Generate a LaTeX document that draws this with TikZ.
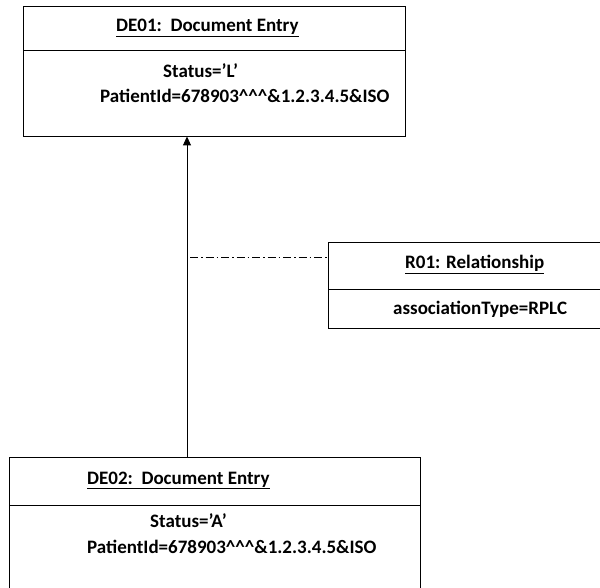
\documentclass[tikz,border=0pt]{standalone}
\usepackage{fontspec}
\setmainfont{Carlito}
\usetikzlibrary{arrows.meta}
\begin{document}
\begin{tikzpicture}[x=1pt,y=1pt,
  box/.style={draw,line width=0.9pt,rectangle,inner sep=0pt},
  txt/.style={font=\fontsize{19}{22}\selectfont\bfseries,inner sep=0pt,anchor=base west},
  conn/.style={line width=0.9pt}]
\useasboundingbox (0,0) rectangle (600,-588);
% boxes
\node[box,minimum width=382pt,minimum height=130pt] (de1) at (214,-71) {};
\node[box,minimum width=411pt,minimum height=134pt] (de2) at (214.5,-524) {};
\node[box,minimum width=276pt,minimum height=86pt] (r1) at (466,-285) {};
\draw[conn] (23,-50) -- (405,-50);
\draw[conn] (9,-505) -- (421,-505);
\draw[conn] (328,-289) -- (604,-289);
% texts
\node[txt] (t1) at (116,-32) {\underline{DE01:\ \ Document Entry}};
\node[txt] (t2) at (163,-78) {Status=’L’};
\node[txt] (t3) at (100,-103) {PatientId=678903\^{}\^{}\^{}\&1.2.3.4.5\&ISO};
\node[txt] (t4) at (405,-269) {\underline{R01: Relationship}};
\node[txt] (t5) at (393,-315) {associationType=RPLC};
\node[txt] (t6) at (87,-484) {\underline{DE02:\ \ Document Entry}};
\node[txt] (t7) at (150,-527) {Status=’A’};
\node[txt] (t8) at (87,-553) {PatientId=678903\^{}\^{}\^{}\&1.2.3.4.5\&ISO};
% connectors
\coordinate (ax) at (187,0);
\draw[conn,-{Triangle[length=9pt,width=8pt]}] (de2.north -| ax) -- (de1.south -| ax);
\coordinate (dstart) at (190,-257);
\draw[line width=0.7pt,dash pattern=on 8pt off 3pt on 1.5pt off 3pt] (dstart) -- (dstart -| r1.west);
\end{tikzpicture}
\end{document}
